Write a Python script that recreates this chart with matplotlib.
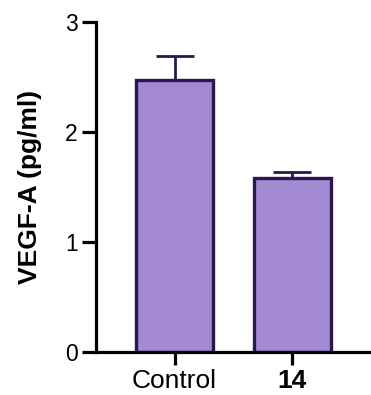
import matplotlib.pyplot as plt

# data
groups = ["Control", "14"]
means = [2.47, 1.58]
errs = [0.22, 0.06]

plt.rcParams['font.family'] = ['Liberation Sans', 'DejaVu Sans']

fig = plt.figure(figsize=(3.71, 3.95), dpi=100)
ax = fig.add_axes([96 / 371, 1 - 352 / 395, 1 - 96 / 371, 330 / 395])

x = range(len(groups))
ax.bar(x, means, width=0.655, color='#a48ad2', edgecolor='#2d1650', linewidth=2.4, zorder=2)
ax.errorbar(x, means, yerr=[[0, 0], errs], fmt='none', ecolor='#2d1650',
            elinewidth=2, capsize=13.5, capthick=2, zorder=1)

ax.set_xlim(-0.668, 1.672)
ax.set_ylim(0, 3)
ax.set_yticks([0, 1, 2, 3])
ax.set_xticks(list(x))
ax.set_xticklabels(groups, fontsize=19)
ax.get_xticklabels()[1].set_fontweight('bold')

for s in ['top', 'right']:
    ax.spines[s].set_visible(False)
for s in ['left', 'bottom']:
    ax.spines[s].set_linewidth(2.3)

ax.tick_params(axis='y', length=10, width=2.3, labelsize=16.5, pad=3)
ax.tick_params(axis='x', length=9, width=2.3, pad=3)
ax.set_ylabel('VEGF-A (pg/ml)', fontsize=19, fontweight='bold', labelpad=17)

fig.savefig('out.png', dpi=100)
